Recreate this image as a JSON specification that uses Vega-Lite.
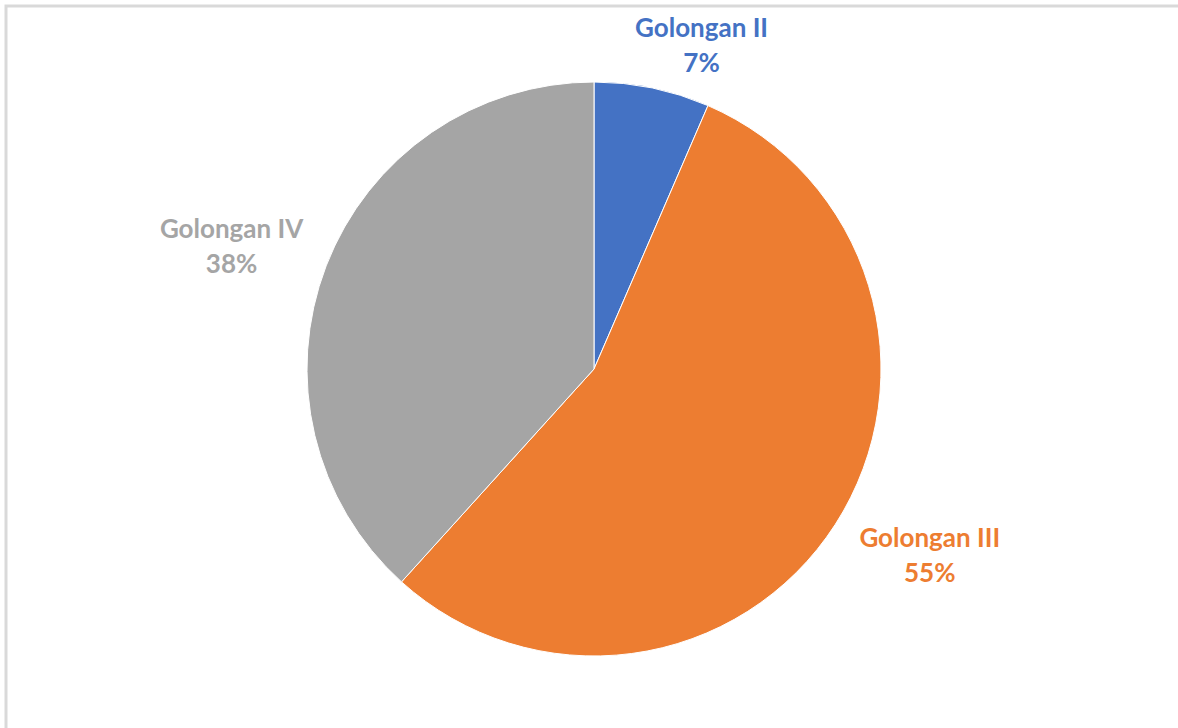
{
  "$schema": "https://vega.github.io/schema/vega-lite/v6.json",
  "autosize": {"type": "none"},
  "width": 1176,
  "height": 726,
  "padding": {"left": 6, "top": 6, "right": -4, "bottom": -4},
  "background": "white",
  "view": {"stroke": "#d9d9d9", "strokeWidth": 3},
  "data": {
    "values": [
      {"kategori": "Golongan II", "nilai": 6.5, "label": "Golongan II\n7%"},
      {"kategori": "Golongan III", "nilai": 55.2, "label": "Golongan III\n55%"},
      {"kategori": "Golongan IV", "nilai": 38.3, "label": "Golongan IV\n38%"}
    ]
  },
  "encoding": {
    "theta": {"field": "nilai", "type": "quantitative", "stack": true},
    "order": {"field": "kategori", "type": "nominal"},
    "color": {
      "field": "kategori",
      "type": "nominal",
      "scale": {"domain": ["Golongan II", "Golongan III", "Golongan IV"], "range": ["#4472C4", "#ED7D31", "#A5A5A5"]},
      "legend": null
    }
  },
  "layer": [
    {"mark": {"type": "arc", "radius": 287, "stroke": "white", "strokeWidth": 1}},
    {
      "mark": {"type": "text", "radius": 338, "dx": 39, "dy": -9, "font": "Lato", "fontWeight": "bold", "fontSize": 26, "lineBreak": "\n", "lineHeight": 35, "align": "center", "baseline": "middle"},
      "encoding": {
        "text": {"field": "label", "type": "nominal"},
        "opacity": {"condition": {"test": "datum.kategori == 'Golongan II'", "value": 1}, "value": 0}
      }
    },
    {
      "mark": {"type": "text", "radius": 385, "dx": 12, "dy": -38, "font": "Lato", "fontWeight": "bold", "fontSize": 26, "lineBreak": "\n", "lineHeight": 35, "align": "center", "baseline": "middle"},
      "encoding": {
        "text": {"field": "label", "type": "nominal"},
        "opacity": {"condition": {"test": "datum.kategori == 'Golongan III'", "value": 1}, "value": 0}
      }
    },
    {
      "mark": {"type": "text", "radius": 383, "dx": -5, "dy": -1, "font": "Lato", "fontWeight": "bold", "fontSize": 26, "lineBreak": "\n", "lineHeight": 35, "align": "center", "baseline": "middle"},
      "encoding": {
        "text": {"field": "label", "type": "nominal"},
        "opacity": {"condition": {"test": "datum.kategori == 'Golongan IV'", "value": 1}, "value": 0}
      }
    }
  ]
}
